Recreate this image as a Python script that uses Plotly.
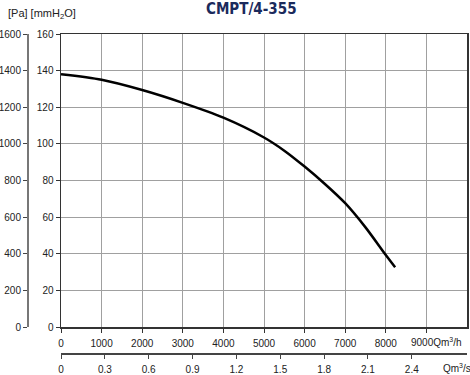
import plotly.graph_objects as go

# Data
flow_m3h = [0, 1000, 2000, 3000, 4000, 5000, 5500, 6000, 6500, 7000, 7500, 8000, 8230]
pressure_mmh2o = [138.0, 135.0, 129.4, 122.4, 114.3, 103.5, 96.3, 87.6, 78.1, 67.6, 54.4, 39.3, 32.6]

x_ticks_m3h = [0, 1000, 2000, 3000, 4000, 5000, 6000, 7000, 8000, 9000]
x_ticks_m3h_text = ["0", "1000", "2000", "3000", "4000", "5000", "6000", "7000", "8000", ""]
x_last_label = "9000Qm<sup>3</sup>/h"
x_ticks_m3s = [0, 0.3, 0.6, 0.9, 1.2, 1.5, 1.8, 2.1, 2.4]
x_ticks_m3s_text = ["0", "0.3", "0.6", "0.9", "1.2", "1.5", "1.8", "2.1", "2.4"]
x2_unit_label = "Qm<sup>3</sup>/s"
y_ticks_mm = [0, 20, 40, 60, 80, 100, 120, 140, 160]
y_ticks_pa = [0, 200, 400, 600, 800, 1000, 1200, 1400, 1600]

title_text = "CMPT/4-355"
y_label = "[Pa] [mmH<sub>2</sub>O]"

W, H = 470, 375
ml, mr, mt, mb = 20, 3, 34, 10
pw = W - ml - mr
ph = H - mt - mb
plot_left = 61
plot_bottom = 327
pa_axis_x = 28
m3s_axis_y = 353

xd0 = (plot_left - ml) / pw
yd0 = (H - mb - plot_bottom) / ph
pa_pos = (pa_axis_x - ml) / pw
m3s_pos = (H - mb - m3s_axis_y) / ph


def px_to_paper(px, py):
    return (px - ml) / pw, (H - mb - py) / ph


font = dict(family="Liberation Sans, Arial, sans-serif", size=10, color="#222")
label_font = dict(family="Liberation Sans, Arial, sans-serif", size=11, color="#222")

fig = go.Figure()
fig.add_trace(go.Scatter(
    x=flow_m3h, y=pressure_mmh2o, mode="lines",
    line=dict(color="black", width=2.5, shape="spline", smoothing=0.8),
    hoverinfo="skip", showlegend=False, xaxis="x", yaxis="y"))
fig.add_trace(go.Scatter(x=[0], y=[0], mode="markers", marker=dict(opacity=0),
                         showlegend=False, hoverinfo="skip", xaxis="x", yaxis="y2"))
fig.add_trace(go.Scatter(x=[0], y=[0], mode="markers", marker=dict(opacity=0),
                         showlegend=False, hoverinfo="skip", xaxis="x2", yaxis="y"))

t_x, t_y = px_to_paper(251, 9)
l_x, l_y = px_to_paper(6, 14)
h_x, h_y = px_to_paper(409, 342)
s_x, s_y = px_to_paper(441, 368)

fig.update_layout(
    width=W, height=H,
    margin=dict(l=ml, r=mr, t=mt, b=mb, autoexpand=False),
    paper_bgcolor="white", plot_bgcolor="white",
    font=font,
    showlegend=False,
    xaxis=dict(domain=[xd0, 1], range=[0, 10000], tickvals=x_ticks_m3h,
               ticktext=x_ticks_m3h_text,
               showgrid=True, gridcolor="#a0a0a0", gridwidth=1,
               showline=True, linecolor="#333", linewidth=1.5, mirror=True,
               ticks="outside", ticklen=4, tickcolor="#333", ticklabelstandoff=2,
               zeroline=False, anchor="y", tickfont=font, automargin=False),
    yaxis=dict(domain=[yd0, 1], range=[0, 160], tickvals=y_ticks_mm,
               showgrid=True, gridcolor="#a0a0a0", gridwidth=1,
               showline=True, linecolor="#333", linewidth=1.5, mirror=True,
               ticks="outside", ticklen=4, tickcolor="#333",
               zeroline=False, anchor="x", tickfont=font, automargin=False),
    yaxis2=dict(overlaying="y", anchor="free", position=pa_pos, side="left",
                range=[0, 1600], tickvals=y_ticks_pa,
                showgrid=False, showline=True, linecolor="#777", linewidth=2,
                ticks="outside", ticklen=4, tickcolor="#444",
                zeroline=False, tickfont=font, automargin=False),
    xaxis2=dict(overlaying="x", anchor="free", position=m3s_pos, side="bottom",
                range=[0, 10000 / 3600], tickvals=x_ticks_m3s,
                ticktext=x_ticks_m3s_text,
                showgrid=False, showline=True, linecolor="#444", linewidth=1.5,
                ticks="outside", ticklen=4, tickcolor="#444", ticklabelstandoff=2,
                zeroline=False, tickfont=font, automargin=False),
    annotations=[
        dict(text=title_text, x=t_x, y=t_y, xref="paper", yref="paper",
             xanchor="center", yanchor="middle", showarrow=False,
             font=dict(family="DejaVu Sans Condensed, DejaVu Sans", size=15,
                       color="#1b2a5c", weight="bold")),
        dict(text=y_label, x=l_x, y=l_y, xref="paper", yref="paper",
             xanchor="left", yanchor="middle", showarrow=False, font=label_font),
        dict(text=x_last_label, x=h_x, y=h_y, xref="paper", yref="paper",
             xanchor="left", yanchor="middle", showarrow=False, font=font),
        dict(text=x2_unit_label, x=s_x, y=s_y, xref="paper", yref="paper",
             xanchor="left", yanchor="middle", showarrow=False, font=font),
    ],
)

fig.write_html("out.html",
               config={"displayModeBar": False, "staticPlot": True},
               post_script="document.body.style.margin='0';document.body.style.overflow='hidden';")
